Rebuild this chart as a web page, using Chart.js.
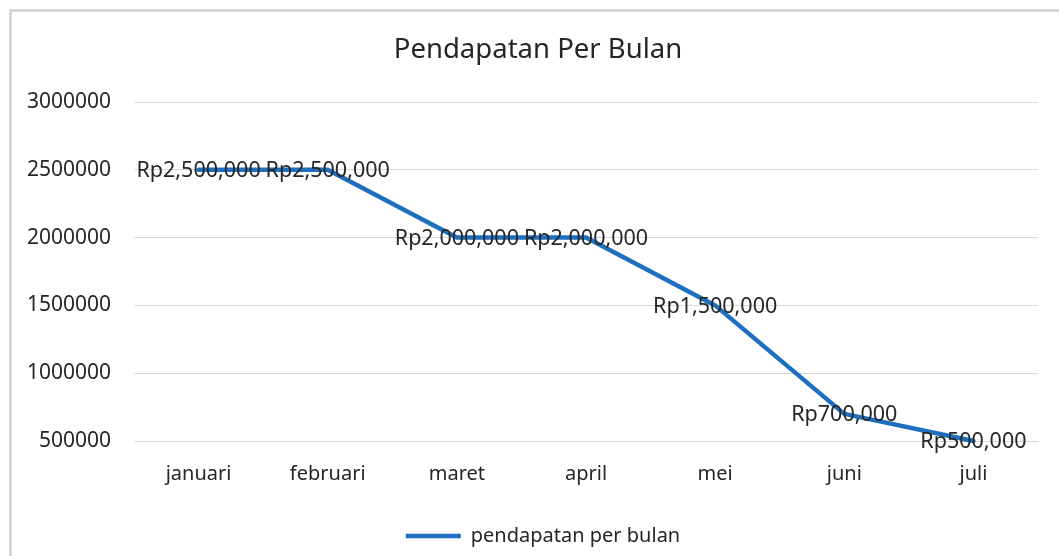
<!DOCTYPE html>
<html>
<head>
<meta charset="utf-8">
<script src="https://cdn.jsdelivr.net/npm/chart.js@4"></script>
<style>
html,body{margin:0;padding:0;background:#fff;}
#wrap{width:1059px;height:556px;position:relative;}
</style>
</head>
<body>
<div id="wrap"><canvas id="c" width="1059" height="556"></canvas></div>
<script>
const categories = ["januari","februari","maret","april","mei","juni","juli"];
const pendapatan = [2500000, 2500000, 2000000, 2000000, 1500000, 700000, 500000];
const yTicks = [500000, 1000000, 1500000, 2000000, 2500000, 3000000];
const seriesName = "pendapatan per bulan";
const chartTitle = "Pendapatan Per Bulan";

const FONT = "'Noto Sans', 'Open Sans', sans-serif";
const TEXT = "#262626";

const frame = {
  id: 'frame',
  beforeDraw(chart) {
    const ctx = chart.ctx;
    ctx.save();
    ctx.fillStyle = '#fff';
    ctx.fillRect(0, 0, chart.width, chart.height);
    ctx.strokeStyle = '#d0d0d0';
    ctx.lineWidth = 2.5;
    ctx.strokeRect(10.5, 10.5, chart.width + 50, chart.height + 50);
    ctx.restore();
  }
};

const boxShift = {
  id: 'boxShift',
  afterLayout(chart) {
    if (chart.legend) {
      chart.legend.left += 24;
      chart.legend.right += 24;
    }
    if (chart.titleBlock) {
      chart.titleBlock.left += 19;
      chart.titleBlock.right += 19;
    }
  }
};

const labelsPlugin = {
  id: 'pointLabels',
  afterDatasetsDraw(chart) {
    const ctx = chart.ctx;
    const meta = chart.getDatasetMeta(0);
    ctx.save();
    ctx.font = "21.5px " + FONT;
    ctx.fillStyle = TEXT;
    ctx.textAlign = 'center';
    ctx.textBaseline = 'middle';
    meta.data.forEach((pt, i) => {
      const v = chart.data.datasets[0].data[i];
      ctx.fillText('Rp' + v.toLocaleString('en-US'), pt.x, pt.y + 1);
    });
    ctx.restore();
  }
};

new Chart(document.getElementById('c'), {
  type: 'line',
  data: {
    labels: categories,
    datasets: [{
      label: seriesName,
      data: pendapatan,
      borderColor: '#1f6fc1',
      backgroundColor: '#1f6fc1',
      borderWidth: 4.5,
      pointRadius: 0,
      pointHoverRadius: 0,
      tension: 0,
      borderCapStyle: 'round',
      borderJoinStyle: 'round',
      clip: false
    }]
  },
  options: {
    responsive: false,
    animation: false,
    events: [],
    layout: { padding: { left: 0, right: 21, top: 0, bottom: 0 } },
    plugins: {
      title: {
        display: true,
        text: chartTitle,
        color: TEXT,
        font: { family: FONT, size: 27.5, weight: 'normal', lineHeight: 1.2 },
        padding: { top: 34, bottom: 35 }
      },
      legend: {
        display: true,
        position: 'bottom',
        labels: {
          color: TEXT,
          font: { family: FONT, size: 20 },
          usePointStyle: true,
          pointStyle: 'line',
          boxWidth: 49,
          pointStyleWidth: 55,
          boxHeight: 20,
          padding: 10
        }
      },
      tooltip: { enabled: false }
    },
    scales: {
      x: {
        offset: true,
        grid: { display: false, drawTicks: false, offset: true },
        border: { display: true, color: '#d9d9d9', width: 1 },
        ticks: { color: TEXT, font: { family: FONT, size: 20 }, padding: 21, maxRotation: 0 },
        afterFit(scale) { scale.height = 75; }
      },
      y: {
        min: 500000,
        max: 3000000,
        afterBuildTicks(scale) { scale.ticks = yTicks.map(v => ({ value: v })); },
        grid: { color: '#d9d9d9', lineWidth: 1, drawTicks: false },
        border: { display: false },
        ticks: { color: TEXT, font: { family: FONT, size: 21 }, padding: 23, callback: v => String(v) },
        afterFit(scale) { scale.width = 134; }
      }
    }
  },
  plugins: [frame, boxShift, labelsPlugin]
});
</script>
</body>
</html>
